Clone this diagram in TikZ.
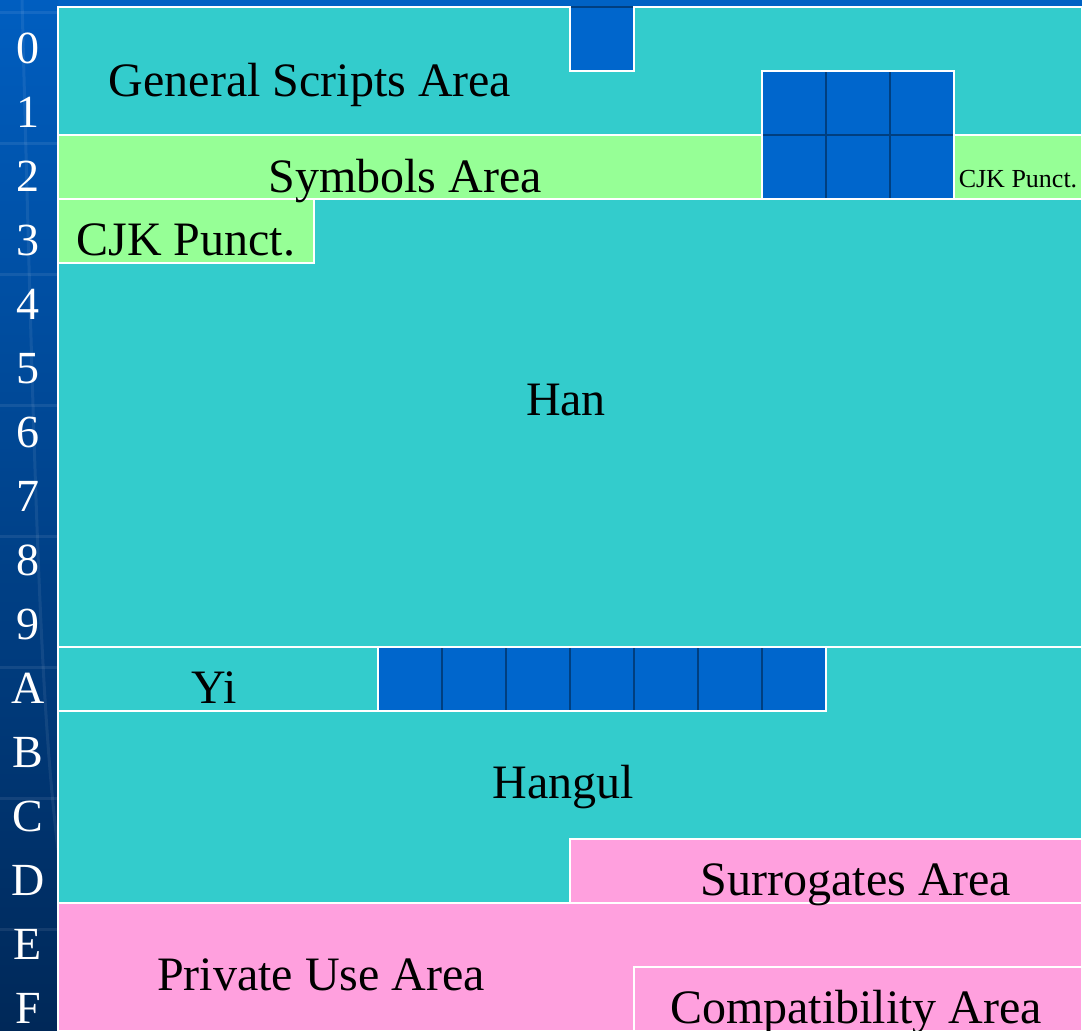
\documentclass[tikz,border=0pt]{standalone}
\usepackage{fontspec}
\setmainfont{Liberation Serif}
\definecolor{cyanc}{HTML}{33CCCC}
\definecolor{greenc}{HTML}{96FF96}
\definecolor{pinkc}{HTML}{FFA0DE}
\definecolor{cellblue}{HTML}{0066CC}
\definecolor{celldark}{HTML}{003F80}
\definecolor{stripblue}{HTML}{0062C4}
\definecolor{coltop}{HTML}{005EC0}
\definecolor{colbot}{HTML}{002858}
\begin{document}
\begin{tikzpicture}[x=1pt,y=-1pt,
  region/.style={draw=white,line width=2pt},
  cyanr/.style={region,fill=cyanc},
  greenr/.style={region,fill=greenc},
  pinkr/.style={region,fill=pinkc},
  bluer/.style={region,fill=cellblue},
  divider/.style={draw=celldark,line width=2pt},
  bigtxt/.style={font=\fontsize{48}{48}\selectfont,text=black,inner sep=0pt,anchor=base},
  smalltxt/.style={font=\fontsize{26}{26}\selectfont,text=black,inner sep=0pt,anchor=base},
  rowlbl/.style={font=\fontsize{46}{46}\selectfont,text=white,inner sep=0pt,anchor=base},
  deco/.style={draw=white,draw opacity=0.08,line width=3pt}]
\useasboundingbox (0,0) rectangle (1082,1031);
% background strip and left column
\fill[stripblue] (0,0) rectangle (1082,7);
\shade[top color=coltop,bottom color=colbot] (0,0) rectangle (58,1031);
\foreach \yy in {12,143,274,405,536,667,798,929}{
  \draw[deco] (0,\yy) -- (58,\yy);
}
\draw[draw=white,draw opacity=0.07,line width=3pt] (22,0) .. controls (35,500) and (40,700) .. (58,850);
% row labels
\foreach \lab [count=\i from 0] in {0,1,2,3,4,5,6,7,8,9,A,B,C,D,E,F}{
  \node[rowlbl] (lbl\lab) at (28,{63+64*\i}) {\lab};
}
% General scripts (rows 0-1)
\draw[cyanr] (58,7) rectangle (1082,135);
\draw[bluer] (570,7) rectangle (634,71);
\draw[divider] (571,7) -- (633,7);
% Symbols row 2
\draw[greenr] (58,135) rectangle (762,199);
\draw[greenr] (954,135) rectangle (1082,199);
% blue block rows 1-2
\draw[bluer] (762,71) rectangle (954,199);
\draw[divider] (826,72) -- (826,198);
\draw[divider] (890,72) -- (890,198);
\draw[divider] (763,135) -- (953,135);
% Han rows 3-9
\draw[cyanr] (58,199) rectangle (1082,647);
\draw[greenr] (58,199) rectangle (314,263);
% Hangul rows A-D
\draw[cyanr] (58,647) rectangle (1082,903);
\draw[cyanr] (58,647) rectangle (378,711);
\draw[bluer] (378,647) rectangle (826,711);
\foreach \xx in {442,506,570,634,698,762}{
  \draw[divider] (\xx,648) -- (\xx,710);
}
\draw[pinkr] (570,839) rectangle (1082,903);
% Private use rows E-F
\draw[pinkr] (58,903) rectangle (1082,1031);
\draw[pinkr] (634,967) rectangle (1082,1031);
% texts
\node[bigtxt] (gsa) at (310,96) {General Scripts Area};
\node[bigtxt] (sym) at (405,192) {Symbols Area};
\node[bigtxt] (cjk) at (186,255) {CJK Punct.};
\node[smalltxt] (cjks) at (1018,187) {CJK Punct.};
\node[bigtxt] (han) at (566,415) {Han};
\node[bigtxt] (yi) at (214,703) {Yi};
\node[bigtxt] (hangul) at (563,798) {Hangul};
\node[bigtxt] (sur) at (856,895) {Surrogates Area};
\node[bigtxt] (pua) at (321,990) {Private Use Area};
\node[bigtxt] (comp) at (856,1023) {Compatibility Area};
\end{tikzpicture}
\end{document}
